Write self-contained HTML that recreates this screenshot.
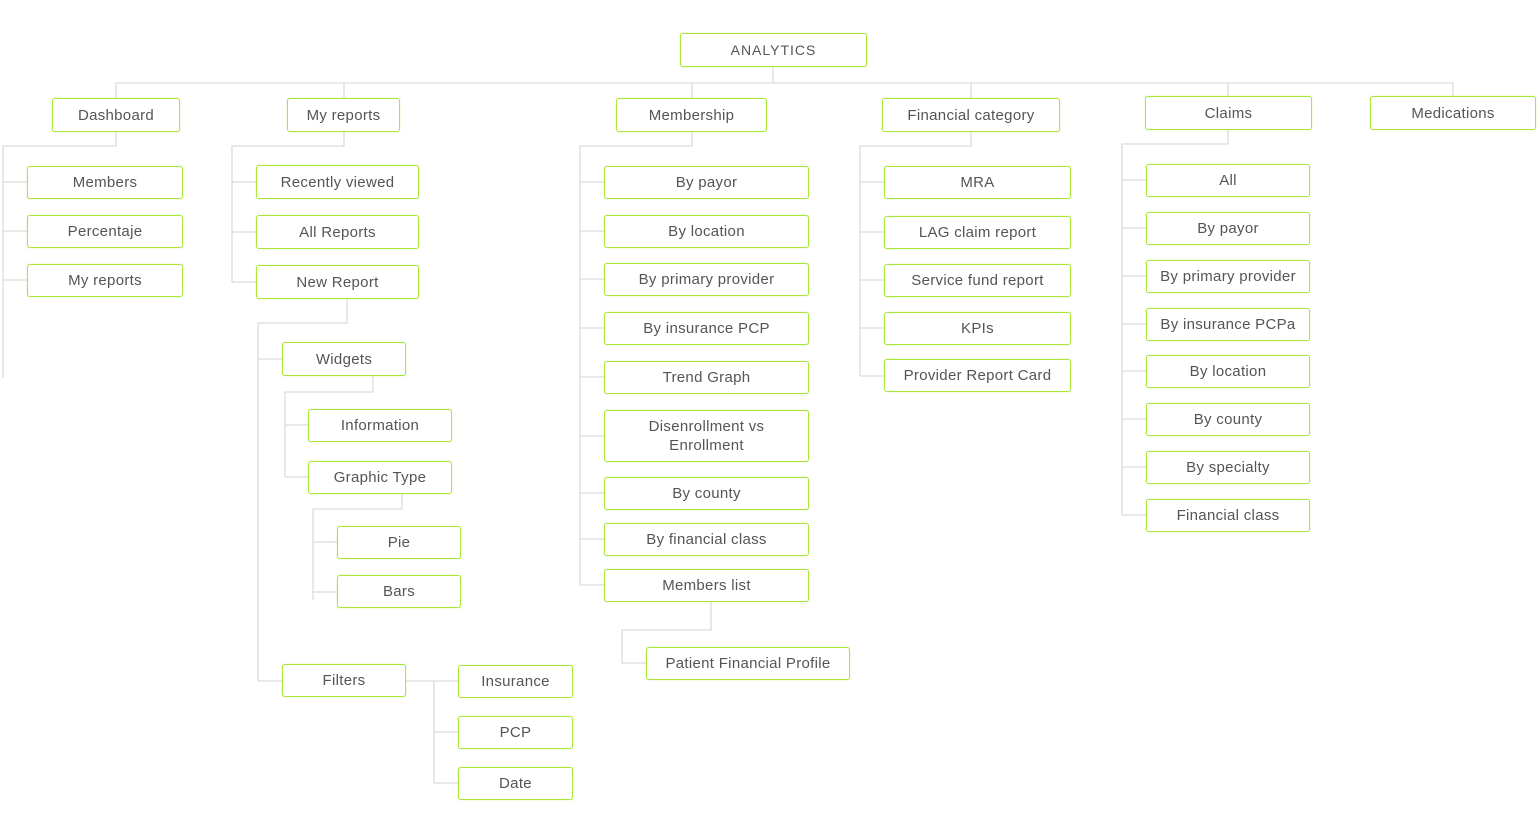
<!DOCTYPE html>
<html><head><meta charset="utf-8"><style>
html,body{margin:0;padding:0;background:#fff;}
body{width:1539px;height:837px;position:relative;overflow:hidden;font-family:"Liberation Sans",sans-serif;}
.b{position:absolute;box-sizing:border-box;border:1.6px solid #a8e63a;border-radius:3px;background:#fff;color:#555;font-size:15px;display:flex;align-items:center;justify-content:center;text-align:center;line-height:19px;letter-spacing:0.3px;box-shadow:0 0 2px rgba(168,230,58,0.35);}
svg{position:absolute;left:0;top:0;}
</style></head><body>
<svg width="1539" height="837" stroke="#dcdcdc" stroke-width="1.3" fill="none">
<path d="M116 83H1453M773 67V83M116 83V98M344 83V98M692 83V98M971 83V98M1228 83V96M1453 83V96"/>
<path d="M116 132V146H3V378M3 182H27M3 231H27M3 280H27"/>
<path d="M344 132V146H232V282M232 182H256M232 232H256M232 282H256"/>
<path d="M347 299V323H258V681M258 359H282M258 681H282"/>
<path d="M373 376V392H285V477M285 425H308M285 477H308"/>
<path d="M402 494V509H313V600M313 542H337M313 592H337"/>
<path d="M406 681H458M434 681V783M434 732H458M434 783H458"/>
<path d="M692 132V146H580V585M580 182H604M580 231H604M580 279H604M580 328H604M580 377H604M580 436H604M580 493H604M580 539H604M580 585H604"/>
<path d="M711 602V630H622V663H646"/>
<path d="M971 132V146H860V376M860 182H884M860 232H884M860 280H884M860 328H884M860 376H884"/>
<path d="M1228 130V144H1122V515M1122 180H1146M1122 228H1146M1122 276H1146M1122 324H1146M1122 371H1146M1122 419H1146M1122 467H1146M1122 515H1146"/>
</svg>
<div class="b" style="left:680px;top:33px;width:187px;height:34px;font-size:14px;letter-spacing:1px">ANALYTICS</div>
<div class="b" style="left:52px;top:98px;width:128px;height:34px">Dashboard</div>
<div class="b" style="left:287px;top:98px;width:113px;height:34px">My reports</div>
<div class="b" style="left:616px;top:98px;width:151px;height:34px">Membership</div>
<div class="b" style="left:882px;top:98px;width:178px;height:34px">Financial category</div>
<div class="b" style="left:1145px;top:96px;width:167px;height:34px">Claims</div>
<div class="b" style="left:1370px;top:96px;width:166px;height:34px">Medications</div>

<div class="b" style="left:27px;top:166px;width:156px;height:33px">Members</div>
<div class="b" style="left:27px;top:215px;width:156px;height:33px">Percentaje</div>
<div class="b" style="left:27px;top:264px;width:156px;height:33px">My reports</div>

<div class="b" style="left:256px;top:165px;width:163px;height:34px">Recently viewed</div>
<div class="b" style="left:256px;top:215px;width:163px;height:34px">All Reports</div>
<div class="b" style="left:256px;top:265px;width:163px;height:34px">New Report</div>
<div class="b" style="left:282px;top:342px;width:124px;height:34px">Widgets</div>
<div class="b" style="left:308px;top:409px;width:144px;height:33px">Information</div>
<div class="b" style="left:308px;top:461px;width:144px;height:33px">Graphic Type</div>
<div class="b" style="left:337px;top:526px;width:124px;height:33px">Pie</div>
<div class="b" style="left:337px;top:575px;width:124px;height:33px">Bars</div>
<div class="b" style="left:282px;top:664px;width:124px;height:33px">Filters</div>
<div class="b" style="left:458px;top:665px;width:115px;height:33px">Insurance</div>
<div class="b" style="left:458px;top:716px;width:115px;height:33px">PCP</div>
<div class="b" style="left:458px;top:767px;width:115px;height:33px">Date</div>

<div class="b" style="left:604px;top:166px;width:205px;height:33px">By payor</div>
<div class="b" style="left:604px;top:215px;width:205px;height:33px">By location</div>
<div class="b" style="left:604px;top:263px;width:205px;height:33px">By primary provider</div>
<div class="b" style="left:604px;top:312px;width:205px;height:33px">By insurance PCP</div>
<div class="b" style="left:604px;top:361px;width:205px;height:33px">Trend Graph</div>
<div class="b" style="left:604px;top:410px;width:205px;height:52px">Disenrollment vs<br>Enrollment</div>
<div class="b" style="left:604px;top:477px;width:205px;height:33px">By county</div>
<div class="b" style="left:604px;top:523px;width:205px;height:33px">By financial class</div>
<div class="b" style="left:604px;top:569px;width:205px;height:33px">Members list</div>
<div class="b" style="left:646px;top:647px;width:204px;height:33px">Patient Financial Profile</div>

<div class="b" style="left:884px;top:166px;width:187px;height:33px">MRA</div>
<div class="b" style="left:884px;top:216px;width:187px;height:33px">LAG claim report</div>
<div class="b" style="left:884px;top:264px;width:187px;height:33px">Service fund report</div>
<div class="b" style="left:884px;top:312px;width:187px;height:33px">KPIs</div>
<div class="b" style="left:884px;top:359px;width:187px;height:33px">Provider Report Card</div>

<div class="b" style="left:1146px;top:164px;width:164px;height:33px">All</div>
<div class="b" style="left:1146px;top:212px;width:164px;height:33px">By payor</div>
<div class="b" style="left:1146px;top:260px;width:164px;height:33px">By primary provider</div>
<div class="b" style="left:1146px;top:308px;width:164px;height:33px">By insurance PCPa</div>
<div class="b" style="left:1146px;top:355px;width:164px;height:33px">By location</div>
<div class="b" style="left:1146px;top:403px;width:164px;height:33px">By county</div>
<div class="b" style="left:1146px;top:451px;width:164px;height:33px">By specialty</div>
<div class="b" style="left:1146px;top:499px;width:164px;height:33px">Financial class</div>
</body></html>
